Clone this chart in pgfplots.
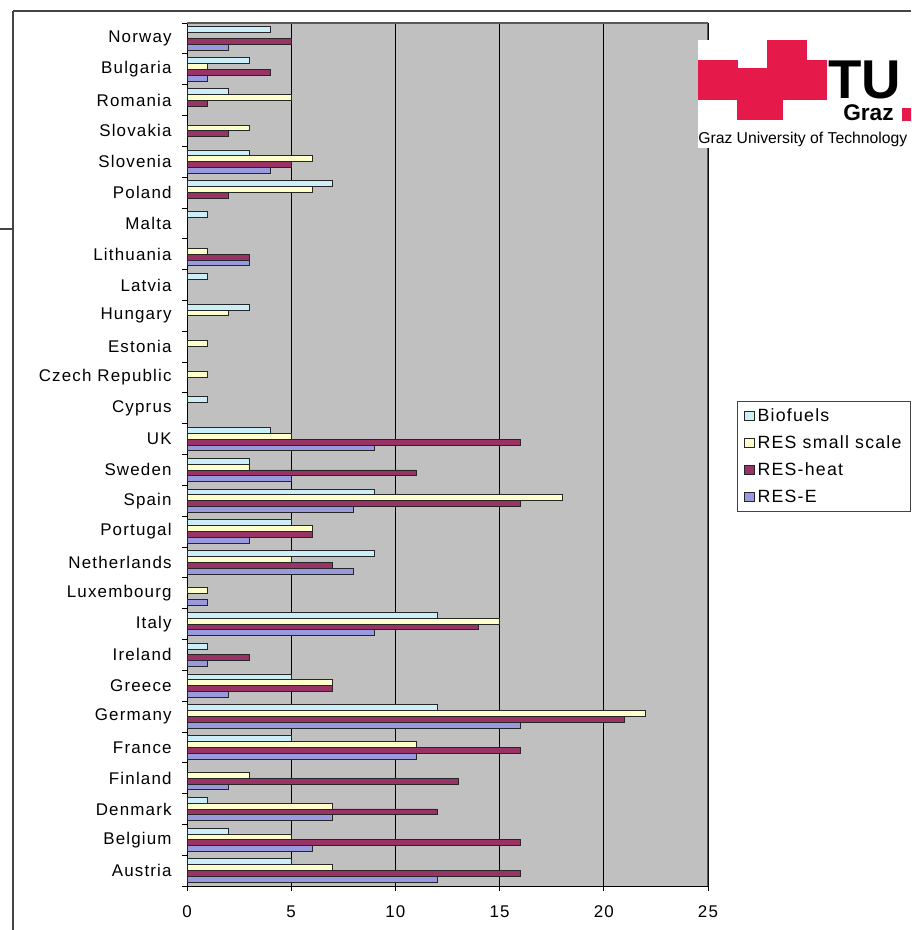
\documentclass[border=0pt]{standalone}
\usepackage{fontspec}
\setmainfont{Liberation Sans}
\newfontfamily\lsfont[LetterSpace=7]{Liberation Sans}
\usepackage{pgfplots}
\pgfplotsset{compat=1.18}
\definecolor{bio}{HTML}{CCEEF8}
\definecolor{small}{HTML}{FFFFCC}
\definecolor{heat}{HTML}{993366}
\definecolor{rese}{HTML}{9999DD}
\definecolor{bg}{HTML}{C0C0C0}
\definecolor{tured}{HTML}{E6194B}
\definecolor{frame}{HTML}{444444}
\begin{document}
\begin{tikzpicture}
\useasboundingbox (0pt,0pt) rectangle (683.25pt,-697.5pt);
\begin{scope}[x=0.75pt,y=-0.75pt]
\draw[frame,line width=1.3pt] (13,11) -- (911,11);
\draw[frame,line width=1.3pt] (13,11) -- (13,930);
\draw[frame,line width=1pt] (0,229) -- (13,229);
\end{scope}
\begin{axis}[
  at={(140.25pt,-664.5pt)}, anchor=south west,
  scale only axis, width=390.75pt, height=647.25pt,
  xbar=0pt, bar width=0.19,
  xmin=0, xmax=25, ymin=-0.5, ymax=27.5,
  axis background/.style={fill=bg},
  axis x line*=bottom, axis y line*=left,
  axis line style={black, line width=0.6pt},
  xtick={0,5,...,25},
  xmajorgrids, grid style={black, line width=0.6pt},
  ytick={0,...,27},
  yticklabels={Austria,Belgium,Denmark,Finland,France,Germany,Greece,Ireland,Italy,Luxembourg,Netherlands,Portugal,Spain,Sweden,UK,Cyprus,Czech Republic,Estonia,Hungary,Latvia,Lithuania,Malta,Poland,Slovenia,Slovakia,Romania,Bulgaria,Norway},
  minor ytick={-0.5,0.5,...,27.5},
  major tick length=0pt,
  minor tick length=3.75pt,
  extra x ticks={0,5,...,25}, extra x tick labels={},
  extra x tick style={major tick length=3.75pt, grid=none, tick style={black,line width=0.6pt}},
  tick align=outside,
  tick style={black, line width=0.6pt},
  ticklabel style={font=\lsfont\fontsize{12.7}{14}\selectfont},
  yticklabel style={xshift=-8pt},
  xticklabel style={yshift=-11pt},
  /pgf/number format/assume math mode=true,
  reverse legend,
  legend cell align=left,
  legend image code/.code={\draw[#1,line width=0.6pt] (0pt,-3.5pt) rectangle (7.5pt,3.5pt);},
  legend style={at={(1.0556,0.5625)}, anchor=north west, draw=frame, line width=0.7pt, fill=white,
    font=\lsfont\fontsize{13.3}{15}\selectfont, row sep=5.2pt, inner xsep=5pt, inner ysep=3.5pt,
    /tikz/every even column/.append style={column sep=1.5pt}},
  every axis plot/.append style={draw=black!85, line width=0.6pt},
]
% RES-E
\addplot[fill=rese] coordinates {(12,0) (6,1) (7,2) (2,3) (11,4) (16,5) (2,6) (1,7) (9,8) (1,9) (8,10) (3,11) (8,12) (5,13) (9,14) (3,20) (4,23) (1,26) (2,27)};
% RES-heat
\addplot[fill=heat] coordinates {(16,0) (16,1) (12,2) (13,3) (16,4) (21,5) (7,6) (3,7) (14,8) (7,10) (6,11) (16,12) (11,13) (16,14) (3,20) (2,22) (5,23) (2,24) (1,25) (4,26) (5,27)};
% RES small scale
\addplot[fill=small] coordinates {(7,0) (5,1) (7,2) (3,3) (11,4) (22,5) (7,6) (15,8) (1,9) (5,10) (6,11) (18,12) (3,13) (5,14) (1,16) (1,17) (2,18) (1,20) (6,22) (6,23) (3,24) (5,25) (1,26)};
% Biofuels
\addplot[fill=bio] coordinates {(5,0) (2,1) (1,2) (5,4) (12,5) (5,6) (1,7) (12,8) (9,10) (5,11) (9,12) (3,13) (4,14) (1,15) (3,18) (1,19) (1,21) (7,22) (3,23) (2,25) (3,26) (4,27)};
\legend{RES-E,RES-heat,RES small scale,Biofuels}
\draw[gray!70!black, line width=0.8pt] (rel axis cs:0,1) -- (rel axis cs:1,1) -- (rel axis cs:1,0);
\end{axis}
\begin{scope}[x=0.75pt,y=-0.75pt]
\fill[white] (698,40) rectangle (911,148);
\fill[tured] (698,60) rectangle (738,100);
\fill[tured] (737,68) rectangle (783,120);
\fill[tured] (767,40) rectangle (807,100);
\fill[tured] (782,60) rectangle (827,100);
\node[anchor=base west, inner sep=0pt, font=\fontsize{41}{41}\selectfont\bfseries] at (828,99) {TU};
\node[anchor=base west, inner sep=0pt, font=\fontsize{17}{17}\selectfont\bfseries] at (843,121) {Graz};
\fill[tured] (902,108) rectangle (911,121);
\node[anchor=base west, inner sep=0pt, font=\fontsize{11.8}{13}\selectfont] at (698,144) {Graz University of Technology};
\end{scope}
\end{tikzpicture}
\end{document}
